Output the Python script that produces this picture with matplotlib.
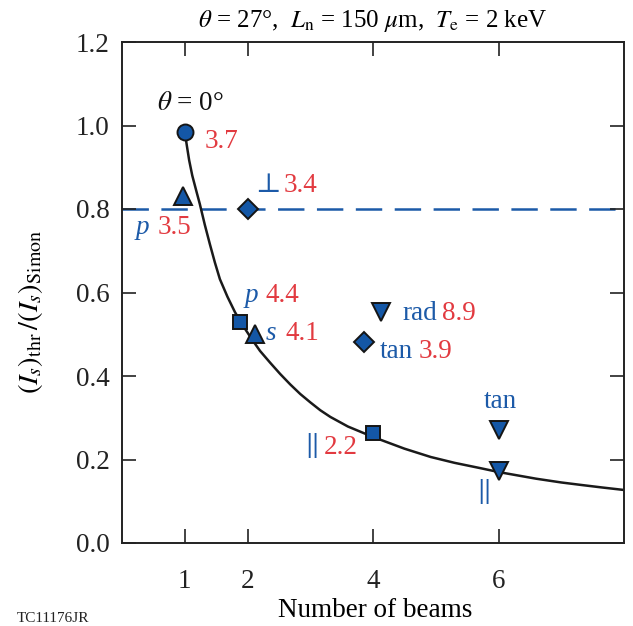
# threshold ratio vs. number of beams, with labelled configurations
import matplotlib.pyplot as plt

plt.rcParams['font.family'] = ['Liberation Serif', 'DejaVu Serif']
plt.rcParams['mathtext.fontset'] = 'stix'
plt.rcParams['lines.scale_dashes'] = False

BLUE = "#1c5aa8"
RED = "#e23a40"
FACE = "#1457a6"

# curve
curve_x = [1.0, 1.03, 1.07, 1.12, 1.19, 1.24, 1.32, 1.4, 1.48, 1.56, 1.68, 1.8,
           1.93, 2.07, 2.2, 2.36, 2.52, 2.68, 2.84, 3.0, 3.16, 3.32, 3.6, 4.0,
           4.5, 4.92, 5.3, 5.72, 6.0, 6.3, 6.6, 7.0, 7.32, 7.65, 8.0]
curve_y = [0.985, 0.955, 0.917, 0.880, 0.840, 0.812, 0.762, 0.716, 0.672, 0.632,
           0.590, 0.553, 0.520, 0.488, 0.460, 0.432, 0.405, 0.380, 0.357, 0.337,
           0.318, 0.302, 0.279, 0.254, 0.226, 0.206, 0.192, 0.179, 0.170, 0.162,
           0.154, 0.145, 0.139, 0.133, 0.127]

simon_level = 0.80

# markers (x, y) per symbol
circle_x, circle_y = [1.0], [0.985]
square_x, square_y = [1.88, 4.0], [0.53, 0.264]
diamond_x, diamond_y = [2.0, 3.86], [0.80, 0.482]
tri_up_x, tri_up_y = [0.98, 2.12], [0.830, 0.500]
tri_dn_x, tri_dn_y = [4.13, 6.0, 6.0], [0.553, 0.270, 0.172]

x_ticks = [1, 2, 4, 6]
y_ticks = [0.0, 0.2, 0.4, 0.6, 0.8, 1.0, 1.2]

fig = plt.figure(figsize=(6.33, 6.26), dpi=100)
ax = fig.add_axes([122/633, 1 - 543/626, 502/633, 501/626])

ax.axhline(simon_level, color=BLUE, lw=1.8, dashes=(19, 9), zorder=1)
ax.plot(curve_x, curve_y, color="#1a1a1a", lw=1.8, zorder=2)

mk = dict(ls="none", mfc=FACE, mec="#151515", mew=1.4, zorder=3, clip_on=False)
ax.plot(circle_x, circle_y, marker="o", ms=11.5, **mk)
ax.plot(square_x, square_y, marker="s", ms=10, **mk)
ax.plot(diamond_x, diamond_y, marker="D", ms=10, **mk)
ax.plot(tri_up_x, tri_up_y, marker="^", ms=13, **mk)
ax.plot(tri_dn_x, tri_dn_y, marker="v", ms=13.5, **mk)

ax.set_xlim(0, 8)
ax.set_ylim(0, 1.2)
ax.set_xticks(x_ticks)
ax.set_yticks(y_ticks)
ax.set_yticklabels([f"{v:.1f}" for v in y_ticks])
ax.tick_params(direction="in", length=10, width=1.2, labelsize=19.5,
               top=True, right=True, colors="#222222")
ax.tick_params(axis="x", pad=19)
ax.tick_params(axis="y", pad=9)
for s in ax.spines.values():
    s.set_linewidth(1.4)
    s.set_color("#222222")

ax.set_xlabel("Number of beams", fontsize=19.5)
ax.xaxis.set_label_coords((375 - 122) / 502, (543 - 598) / 501)
ax.set_ylabel(r"$(I_s)_\mathrm{thr}\,/(I_s)_\mathrm{Simon}$", fontsize=20.5,
              va="center")
ax.yaxis.set_label_coords((31 - 122) / 502, (543 - 312) / 501)
ax.set_title(r"$\theta$ = 27°,  $L_\mathrm{n}$ = 150 $\mu$m,  $T_\mathrm{e}$ = 2 keV",
             fontsize=18, pad=11)

def px(x, y):
    # reference-pixel position -> axes fraction
    return (x - 122) / 502, (543 - y) / 501

def label(x, y, s, color, italic=False, size=19.5):
    ax.text(*px(x, y), s, transform=ax.transAxes, color=color, fontsize=size,
            va="center", ha="left", style="italic" if italic else "normal")

ax.text(*px(190, 104), r"$\theta$ = 0°", transform=ax.transAxes, fontsize=19.5,
        ha="center", va="center", color="#111111")
label(205, 142, "3.7", RED)
label(255, 186, "⊥", BLUE)
label(284, 186, "3.4", RED)
label(136, 228, "p", BLUE, italic=True)
label(158, 228, "3.5", RED)
label(245, 296, "p", BLUE, italic=True)
label(265, 296, "4.4", RED)
label(266, 333, "s", BLUE, italic=True)
label(285, 333, "4.1", RED)
label(402, 313, "rad", BLUE)
label(442, 313, "8.9", RED)
label(380, 352, "tan", BLUE)
label(419, 352, "3.9", RED)
label(304, 446, r"$\Vert$", BLUE, size=21)
label(324, 447, "2.2", RED)
label(484, 402, "tan", BLUE)
label(476, 492, r"$\Vert$", BLUE, size=21)

fig.text(17/633, 1/626, "TC11176JR", fontsize=11, va="bottom", ha="left",
         color="#222222")

fig.savefig("out.png", dpi=100)
